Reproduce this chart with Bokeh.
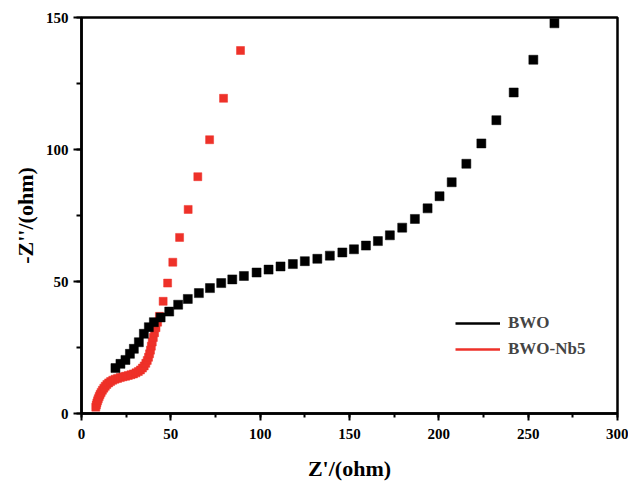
from bokeh.plotting import figure
from bokeh.models import Legend, LegendItem, SingleIntervalTicker
from bokeh.embed import file_html
from bokeh.resources import INLINE

# BWO (black squares)
bwo_x = [19.0, 21.8, 24.6, 27.1, 29.3, 32.1, 34.9, 37.7, 40.5, 44.3, 49.1, 54.1,
         59.5, 65.7, 71.9, 78.2, 84.4, 90.9, 98.0, 104.7, 111.4, 118.3, 125.0,
         132.0, 139.0, 146.0, 152.5, 159.2, 165.9, 172.6, 179.5, 186.6, 193.7,
         200.4, 207.2, 215.4, 223.8, 232.2, 241.9, 252.9, 264.7]
bwo_y = [17.2, 18.8, 20.3, 22.6, 24.5, 27.0, 30.2, 32.7, 34.6, 36.4, 38.6, 41.2,
         43.4, 45.6, 47.5, 49.4, 50.8, 52.1, 53.4, 54.5, 55.7, 56.6, 57.7,
         58.6, 59.8, 61.0, 62.2, 63.6, 65.3, 67.5, 70.4, 73.7, 77.7,
         82.3, 87.6, 94.6, 102.3, 111.1, 121.6, 134.0, 147.8]

# BWO-Nb5 (red squares)
nb5_x = [8.0, 8.3, 8.6, 9.0, 9.4, 9.9, 10.4, 11.0, 11.7, 12.5, 13.3, 14.2, 15.2,
         16.3, 17.5, 18.8, 20.2, 21.7, 23.2, 24.7, 26.2, 27.7, 29.1, 30.5, 31.8,
         33.0, 34.1, 35.1, 36.0, 36.8, 37.5, 38.1, 38.6, 39.1, 39.6, 40.2, 40.9,
         41.7, 42.6, 43.6, 45.7, 48.2, 51.1, 54.9, 59.7, 65.1, 71.7, 79.5, 89.0]
nb5_y = [2.4, 3.2, 4.0, 4.8, 5.6, 6.4, 7.2, 8.0, 8.8, 9.6, 10.3, 11.0, 11.6,
         12.1, 12.6, 13.0, 13.3, 13.6, 13.9, 14.1, 14.4, 14.7, 15.0, 15.4, 15.9,
         16.5, 17.2, 18.0, 19.0, 20.1, 21.3, 22.6, 24.0, 25.5, 27.1, 28.8, 30.6,
         32.5, 34.6, 36.8, 42.5, 49.4, 57.3, 66.7, 77.3, 89.7, 103.7, 119.4, 137.5]

series_names = ["BWO", "BWO-Nb5"]
series_colors = ["#000000", "#ee3129"]

FONT = "Liberation Serif"

p = figure(width=628, height=490,
           min_border_left=81, min_border_right=11, min_border_top=17, min_border_bottom=77,
           x_range=(0, 300), y_range=(0, 150),
           output_backend="svg", toolbar_location=None)

p.xgrid.visible = False
p.ygrid.visible = False
p.outline_line_color = "black"
p.outline_line_width = 2.5

p.scatter(nb5_x, nb5_y, marker="square", size=8, fill_color=series_colors[1],
          line_color=series_colors[1], line_width=0.5)
p.scatter(bwo_x, bwo_y, marker="square", size=9, fill_color=series_colors[0],
          line_color=series_colors[0], line_width=0.5)

nan = float("nan")
l1 = p.line([nan], [nan], line_color=series_colors[0], line_width=2.5)
l2 = p.line([nan], [nan], line_color=series_colors[1], line_width=2.5)

legend = Legend(items=[LegendItem(label=series_names[0], renderers=[l1]),
                       LegendItem(label=series_names[1], renderers=[l2])],
                location=(374, 54))
legend.label_text_font = FONT
legend.label_text_font_style = "bold"
legend.label_text_font_size = "17px"
legend.glyph_width = 45
legend.glyph_height = 20
legend.label_standoff = 8
legend.padding = 0
legend.spacing = 6
legend.margin = 0
legend.border_line_color = None
legend.background_fill_alpha = 0
p.add_layout(legend)

p.xaxis.ticker = SingleIntervalTicker(interval=50, num_minor_ticks=2)
p.yaxis.ticker = SingleIntervalTicker(interval=50, num_minor_ticks=2)

for ax in (p.xaxis, p.yaxis):
    ax.axis_line_color = "black"
    ax.axis_line_width = 2.5
    ax.major_tick_line_color = "black"
    ax.minor_tick_line_color = "black"
    ax.major_tick_line_width = 2
    ax.minor_tick_line_width = 2
    ax.major_tick_in = 0
    ax.minor_tick_in = 0
    ax.major_label_text_font = FONT
    ax.major_label_text_font_style = "bold"
    ax.major_label_text_font_size = "15px"
    ax.major_label_text_color = "black"
    ax.axis_label_text_font = FONT
    ax.axis_label_text_font_style = "bold"
    ax.axis_label_text_font_size = "22px"
    ax.axis_label_text_color = "black"

p.xaxis.major_tick_out = 7
p.xaxis.minor_tick_out = 4
p.yaxis.major_tick_out = 8
p.yaxis.minor_tick_out = 5

p.xaxis.axis_label = "Z'/(ohm)"
p.yaxis.axis_label = "-Z''/(ohm)"
p.xaxis.major_label_standoff = 8
p.yaxis.major_label_standoff = 5
p.xaxis.axis_label_standoff = 14
p.yaxis.axis_label_standoff = 5

open("out.html", "w").write(file_html(p, INLINE))
